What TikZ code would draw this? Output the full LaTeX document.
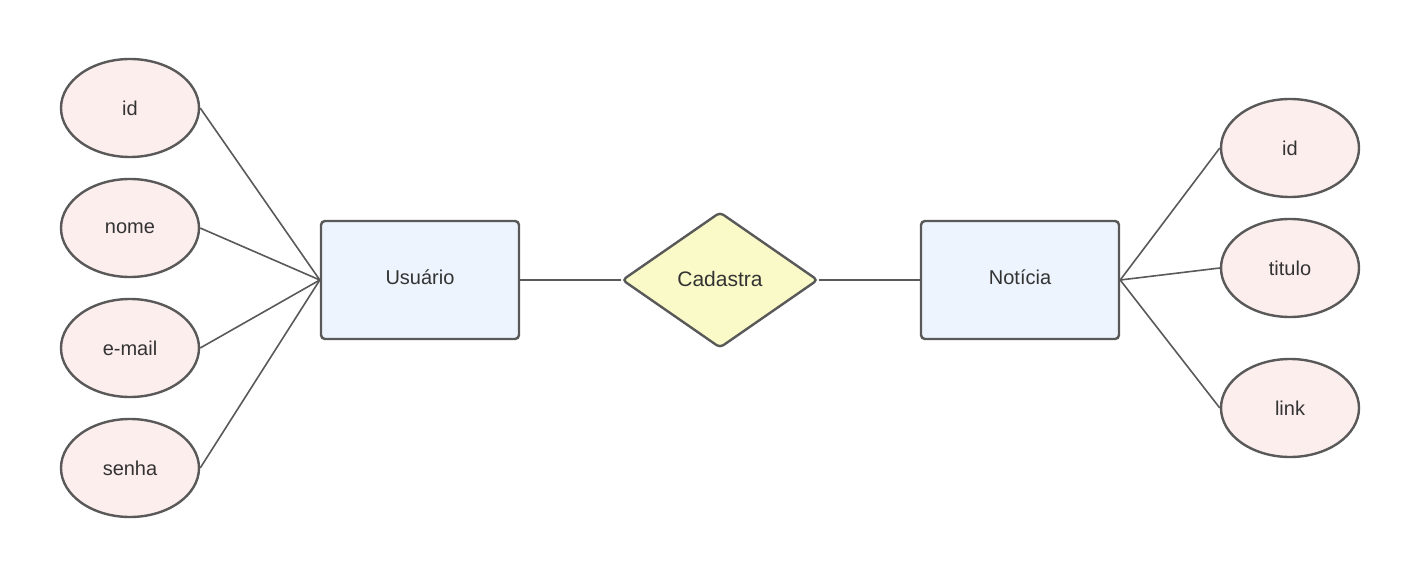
\documentclass[tikz,border=0pt]{standalone}
\usepackage{fontspec}
\setmainfont{Liberation Sans}
\usetikzlibrary{shapes.geometric}
\definecolor{strokec}{HTML}{595959}
\definecolor{attrfill}{HTML}{FDEEEE}
\definecolor{entfill}{HTML}{EDF4FD}
\definecolor{relfill}{HTML}{FAFAC8}
\definecolor{txt}{HTML}{333333}
\tikzset{
  attr/.style={ellipse, draw=strokec, fill=attrfill, line width=2.4pt, minimum width=138pt, minimum height=98pt, inner sep=0pt, text=txt, font=\fontsize{20}{24}\selectfont},
  ent/.style={rectangle, rounded corners=4pt, draw=strokec, fill=entfill, line width=2.4pt, minimum width=198pt, minimum height=118pt, inner sep=0pt, text=txt, font=\fontsize{20}{24}\selectfont},
  rel/.style={diamond, rounded corners=4pt, draw=strokec, fill=relfill, line width=2.4pt, minimum width=196pt, minimum height=136pt, inner sep=0pt, text=txt, font=\fontsize{21}{25}\selectfont},
  conn/.style={draw=strokec, line width=1.6pt}
}
\begin{document}
\begin{tikzpicture}[x=1pt,y=-1pt]
\useasboundingbox (0,0) rectangle (1427,580);
\node[attr] (a1) at (130,108) {id};
\node[attr] (a2) at (130,228) {nome};
\node[attr] (a3) at (130,348) {e-mail};
\node[attr] (a4) at (130,468) {senha};
\node[attr] (b1) at (1290,148) {id};
\node[attr] (b2) at (1290,268) {titulo};
\node[attr] (b3) at (1290,408) {link};
\node[ent] (u) at (420,280) {\raisebox{5pt}{Usuário}};
\node[ent] (n) at (1020,280) {\raisebox{5pt}{Notícia}};
\node[rel] (c) at (720,280) {\raisebox{3pt}{Cadastra}};
\foreach \a in {a1,a2,a3,a4} \draw[conn] (\a.east) -- (u.west);
\foreach \b in {b1,b2,b3} \draw[conn] (n.east) -- (\b.west);
\draw[conn] (u.east) -- (c.west);
\draw[conn] (c.east) -- (n.west);
\end{tikzpicture}
\end{document}
